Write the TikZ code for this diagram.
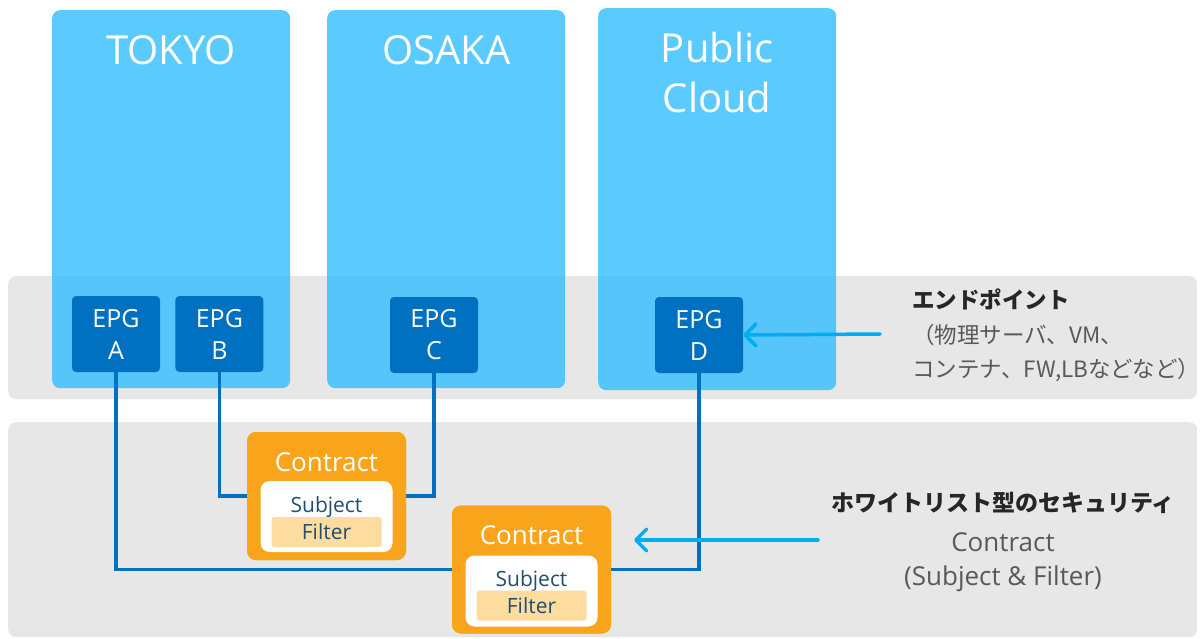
\documentclass[tikz,border=0pt]{standalone}
\usepackage{fontspec}
\setmainfont{Open Sans}
\newfontfamily\jpfont{Noto Sans CJK JP}
\usepackage{tikz}
\usetikzlibrary{arrows.meta, positioning}

\definecolor{regionblue}{HTML}{32BEFF}
\definecolor{epgblue}{HTML}{0070C0}
\definecolor{bandgray}{HTML}{E7E7E7}
\definecolor{contractorange}{HTML}{F9A51B}
\definecolor{filterpeach}{HTML}{FDDCA0}
\definecolor{pointerblue}{HTML}{00AEEF}
\definecolor{notegray}{HTML}{595959}
\definecolor{subjectink}{HTML}{1F4E6E}

\begin{document}
\begin{tikzpicture}[
  x=1pt, y=1pt,
  band/.style={rectangle, fill=bandgray, rounded corners=8pt, minimum width=1189pt,
              anchor=north west, inner sep=0pt},
  region/.style={rectangle, fill=regionblue, fill opacity=0.8, rounded corners=8pt,
                minimum width=238pt, minimum height=378pt, anchor=north west, inner sep=0pt},
  regiontitle/.style={text=white, align=center, font=\fontsize{40}{50}\selectfont},
  epg/.style={rectangle, fill=epgblue, rounded corners=4pt, text=white, align=center,
             minimum width=88pt, minimum height=76pt, inner sep=0pt,
             font=\fontsize{25}{32}\selectfont},
  contract/.style={rectangle, fill=contractorange, rounded corners=9pt,
                  minimum width=159pt, minimum height=128pt, inner sep=0pt},
  contracttitle/.style={text=white, font=\fontsize{26}{30}\selectfont, inner sep=0pt},
  subjectbox/.style={rectangle, fill=white, rounded corners=9pt,
                    minimum width=132pt, minimum height=71pt, inner sep=0pt},
  subjecttext/.style={text=subjectink, font=\fontsize{21}{24}\selectfont, inner sep=0pt},
  filterbox/.style={rectangle, fill=filterpeach, rounded corners=3pt, text=subjectink,
                   minimum width=110pt, minimum height=30pt, inner sep=0pt,
                   font=\fontsize{21}{24}\selectfont},
  link/.style={draw=epgblue, line width=3.5pt},
  pointer/.style={-{Straight Barb[length=11pt, width=22pt, round]}, line width=3.5pt,
                 line cap=round, color=pointerblue},
  note/.style={text=notegray, inner sep=0pt}
]
\useasboundingbox (0,0) rectangle (1200,-639);

% gray bands
\node[band, minimum height=123pt] (epband) at (8,-276) {};
\node[band, minimum height=215pt] (secband) at (8,-422) {};

% sites
\node[region] (tokyo) at (52,-10) {};
\node[region] (osaka) at (327,-10) {};
\node[region, minimum height=382pt] (cloud) at (598,-8) {};
\node[regiontitle] (tokyotitle) at ([yshift=-40pt]tokyo.north) {TOKYO};
\node[regiontitle] (osakatitle) at ([yshift=-40pt]osaka.north) {OSAKA};
\node[regiontitle] (cloudtitle) at ([yshift=-65pt]cloud.north) {Public\\Cloud};

% endpoint groups
\node[epg] (epgA) at (116,-334) {EPG\\A};
\node[epg, right=15pt of epgA] (epgB) {EPG\\B};
\node[epg] (epgC) at (434,-335) {EPG\\C};
\node[epg] (epgD) at (699,-335) {EPG\\D};

% contracts
\node[contract] (con1) at (326.5,-496) {};
\node[contract] (con2) at (531.5,-569.5) {};

\draw[link] (epgA.south) |- (con2.west);
\draw[link] (epgB.south) |- (con1.west);
\draw[link] (epgC.south) |- (con1.east);
\draw[link] (epgD.south) |- (con2.east);

\node[contract] at (con1) {};
\node[contract] at (con2) {};
\node[contracttitle] (con1title) at ([yshift=-30pt]con1.north) {Contract};
\node[contracttitle] (con2title) at ([yshift=-30pt]con2.north) {Contract};
\node[subjectbox, above=8pt of con1.south] (sub1) {};
\node[subjectbox, above=7pt of con2.south] (sub2) {};
\node[subjecttext] (sub1text) at ([yshift=-26pt]sub1.north) {Subject};
\node[subjecttext] (sub2text) at ([yshift=-26pt]sub2.north) {Subject};
\node[filterbox, above=5pt of sub1.south] (fil1) {Filter};
\node[filterbox, above=6pt of sub2.south] (fil2) {Filter};

% notes on the right
\node[note, anchor=north west, align=left, font=\jpfont\fontsize{22.5}{34.5}\selectfont]
  (epnote) at (912,-289) {{\bfseries\color{black!85}エンドポイント}\\
  （物理サーバ、VM、\\コンテナ、FW,LBなどなど）};
\node[note, anchor=north, align=center, font=\fontsize{26}{34}\selectfont] (secnote) at (1003,-492)
  {{\jpfont\bfseries\fontsize{23}{28}\selectfont\color{black!85}ホワイトリスト型のセキュリティ}\\[6pt]
  Contract\\
  (Subject \& Filter)};

\coordinate (eptail) at (880,-334);
\coordinate (sectail) at (818,-540);
\coordinate (sectip) at (634,-540);
\draw[pointer] (eptail) -- (epgD.east);
\draw[pointer] (sectail) -- (sectip);

\end{tikzpicture}
\end{document}
